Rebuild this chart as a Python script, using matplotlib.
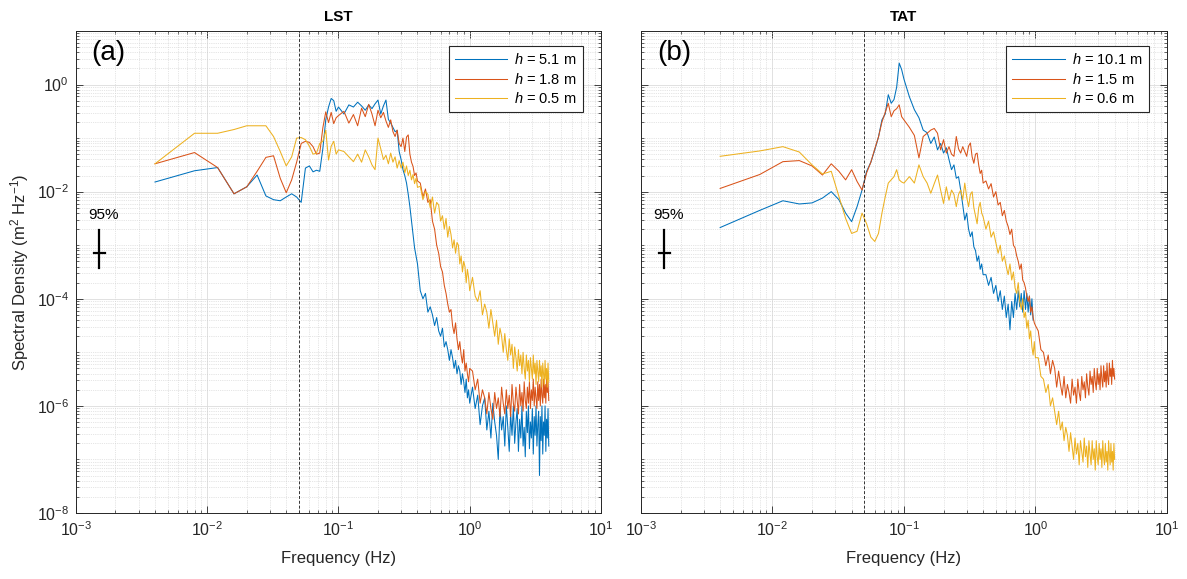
import numpy as np
import matplotlib.pyplot as plt
from matplotlib.ticker import LogLocator, NullFormatter, FixedLocator

plt.rcParams['font.family'] = ['Liberation Sans', 'DejaVu Sans']
plt.rcParams['mathtext.fontset'] = 'custom'
plt.rcParams['mathtext.rm'] = 'Liberation Sans'
plt.rcParams['mathtext.it'] = 'Liberation Sans:italic'
plt.rcParams['axes.unicode_minus'] = False

# frequency bins (Hz), shared by both panels
freq = [0.004, 0.008, 0.012, 0.016, 0.020, 0.024, 0.028, 0.032, 0.036, 0.040,
        0.044, 0.048, 0.052, 0.056, 0.060, 0.064, 0.068, 0.072, 0.076, 0.080,
        0.084, 0.088, 0.092, 0.096, 0.100,
        0.11, 0.12, 0.13, 0.14, 0.15, 0.16, 0.17, 0.18, 0.19, 0.20,
        0.21, 0.22, 0.23, 0.24, 0.25, 0.26, 0.27, 0.28, 0.29, 0.30,
        0.31, 0.32, 0.33, 0.34, 0.35, 0.36, 0.37, 0.38, 0.39, 0.40,
        0.42, 0.44, 0.46, 0.48, 0.50, 0.52, 0.54, 0.56, 0.58, 0.60,
        0.62, 0.64, 0.66, 0.68, 0.70, 0.72, 0.74, 0.76, 0.78, 0.80,
        0.82, 0.84, 0.86, 0.88, 0.90, 0.92, 0.94, 0.96, 0.98, 1.00,
        1.05, 1.10, 1.15, 1.20, 1.25, 1.30, 1.35, 1.40, 1.45, 1.50,
        1.55, 1.60, 1.65, 1.70, 1.75, 1.80, 1.85, 1.90, 1.95, 2.00,
        2.05, 2.10, 2.15, 2.20, 2.25, 2.30, 2.35, 2.40, 2.45, 2.50,
        2.55, 2.60, 2.65, 2.70, 2.75, 2.80, 2.85, 2.90, 2.95, 3.00,
        3.05, 3.10, 3.15, 3.20, 3.25, 3.30, 3.35, 3.40, 3.45, 3.50,
        3.55, 3.60, 3.65, 3.70, 3.75, 3.80, 3.85, 3.90, 3.95, 4.00]

# spectral density, log10(m2 Hz-1)
# LST
lst_h51 = [-1.82, -1.61, -1.55, -2.04, -1.91, -1.69, -2.08, -2.15, -2.17, -2.10,
           -2.04, -2.10, -2.20, -1.56, -1.52, -1.63, -1.60, -1.62, -1.20, -0.66,
           -0.42, -0.26, -0.30, -0.50, -0.42,
           -0.55, -0.38, -0.42, -0.33, -0.40, -0.48, -0.38, -0.45, -0.36, -0.29,
           -0.55, -0.40, -0.29, -0.65, -0.72, -0.80, -0.88, -0.86, -1.25, -1.40,
           -1.59, -1.70, -1.84, -2.05, -2.28, -2.55, -2.80, -3.05, -3.20, -3.35,
           -3.85, -4.00, -3.90, -4.25, -4.15, -4.30, -4.50, -4.35, -4.60, -4.70,
           -4.55, -4.90, -4.80, -4.95, -5.15, -4.95, -5.10, -5.30, -5.15, -5.40,
           -5.25, -5.35, -5.60, -5.40, -5.55, -5.75, -5.50, -5.85, -5.70, -5.95,
           -5.65, -6.05, -5.80, -6.35, -6.00, -5.85, -6.45, -6.10, -6.60, -5.95,
           -6.30, -6.55, -7.00, -6.05, -6.45, -6.20, -6.75, -6.00, -6.40, -6.85,
           -6.15, -6.55, -6.00, -6.70, -6.30, -6.05, -6.85, -6.25, -6.60, -6.00,
           -6.75, -6.40, -6.95, -6.10, -6.50, -6.00, -6.80, -6.30, -6.60, -6.05,
           -6.90, -6.20, -6.55, -6.00, -6.75, -6.35, -6.10, -7.30, -6.20, -6.65,
           -6.00, -6.90, -6.30, -6.55, -6.00, -6.85, -6.25, -6.60, -6.05, -6.75]
lst_h18 = [-1.48, -1.27, -1.55, -2.04, -1.91, -1.62, -1.36, -1.33, -1.75, -2.02,
           -1.78, -1.45, -1.10, -1.06, -1.08, -1.16, -1.30, -1.28, -0.81, -0.51,
           -0.71, -0.52, -0.73, -0.62, -0.58,
           -0.50, -0.72, -0.56, -0.77, -0.44, -0.60, -0.37, -0.55, -0.77, -0.48,
           -0.62, -0.52, -0.68, -0.80, -0.66, -0.88, -0.97, -0.85, -1.10, -1.16,
           -1.00, -1.25, -0.98, -0.94, -1.30, -1.45, -1.53, -1.70, -1.65, -1.80,
           -1.84, -2.10, -1.95, -2.20, -2.15, -2.55, -2.70, -3.00, -3.15, -3.40,
           -3.50, -3.75, -3.90, -4.10, -4.25, -4.20, -4.50, -4.65, -4.45, -4.75,
           -4.95, -4.80, -5.05, -5.20, -4.95, -5.35, -5.20, -5.40, -5.55, -5.30,
           -5.35, -5.70, -5.50, -5.95, -5.70, -5.85, -6.15, -5.75, -6.05, -6.25,
           -5.75, -6.05, -5.85, -6.20, -5.65, -5.95, -6.15, -5.70, -6.05, -5.80,
           -6.20, -5.60, -5.95, -6.10, -5.65, -5.90, -6.15, -5.60, -6.00, -5.75,
           -6.10, -5.55, -5.90, -6.05, -5.65, -5.95, -5.55, -6.05, -5.70, -5.90,
           -5.50, -6.00, -5.65, -5.85, -6.05, -5.55, -5.90, -5.60, -6.00, -5.50,
           -5.80, -5.95, -5.50, -5.85, -5.60, -5.95, -5.45, -5.75, -5.55, -5.90]
lst_h05 = [-1.48, -0.91, -0.91, -0.84, -0.77, -0.77, -0.77, -0.97, -1.25, -1.52,
           -1.35, -1.00, -0.99, -1.03, -1.15, -1.30, -1.28, -1.10, -1.06, -0.85,
           -1.41, -1.15, -1.06, -1.30, -1.22,
           -1.25, -1.35, -1.44, -1.30, -1.45, -1.22, -1.35, -1.50, -1.59, -1.00,
           -1.20, -1.40, -1.32, -1.48, -1.28, -1.45, -1.35, -1.56, -1.42, -1.56,
           -1.45, -1.65, -1.52, -1.70, -1.60, -1.78, -1.68, -1.85, -1.75, -1.92,
           -1.90, -2.15, -2.00, -2.05, -2.30, -2.10, -2.40, -2.20, -2.25, -2.55,
           -2.45, -2.70, -2.50, -2.85, -2.65, -2.80, -3.05, -2.90, -3.15, -2.95,
           -3.00, -3.35, -3.20, -3.50, -3.30, -3.40, -3.70, -3.45, -3.60, -3.85,
           -3.60, -3.95, -4.05, -3.85, -4.30, -4.10, -4.25, -4.55, -4.20, -4.45,
           -4.70, -4.40, -4.85, -4.55, -4.70, -5.00, -4.65, -4.95, -5.15, -4.75,
           -5.05, -4.85, -5.30, -4.90, -5.10, -5.35, -4.95, -5.25, -5.05, -5.40,
           -5.00, -5.30, -5.50, -5.05, -5.35, -5.15, -5.55, -5.10, -5.30, -5.50,
           -5.05, -5.40, -5.20, -5.60, -5.15, -5.35, -5.55, -5.15, -5.45, -5.25,
           -5.65, -5.20, -5.40, -5.60, -5.15, -5.50, -5.30, -5.65, -5.20, -5.55]

# TAT (the h = 10.1 m record stops near 1 Hz)
tat_h101 = [-2.67, -2.35, -2.17, -2.23, -2.21, -2.12, -2.00, -2.15, -2.40, -2.56,
            -2.28, -1.97, -1.62, -1.45, -1.22, -0.98, -0.66, -0.55, -0.19, -0.35,
            -0.28, -0.05, 0.40, 0.28, 0.10,
            -0.23, -0.47, -0.62, -0.85, -0.90, -1.10, -0.98, -1.22, -1.10, -1.28,
            -1.18, -1.40, -1.59, -1.50, -1.75, -1.72, -1.97, -2.25, -2.53, -2.40,
            -2.70, -2.84, -2.75, -3.03, -3.10, -3.30, -3.20, -3.45, -3.35, -3.55,
            -3.55, -3.75, -3.60, -3.90, -3.75, -4.05, -3.85, -4.20, -3.95, -4.35,
            -4.10, -4.58, -4.05, -4.35, -3.90, -4.20, -3.85, -4.15, -3.90, -4.25,
            -3.85, -4.20, -3.90, -4.25, -3.95, -4.30, -4.00, -4.40]
tat_h15 = [-1.94, -1.68, -1.44, -1.42, -1.52, -1.69, -1.48, -1.62, -1.78, -1.59,
           -1.81, -1.97, -1.65, -1.45, -1.20, -0.98, -0.70, -0.52, -0.35, -0.60,
           -0.49, -0.45, -0.38, -0.60, -0.66,
           -0.80, -0.95, -1.37, -0.97, -0.91, -0.85, -0.82, -0.91, -1.22, -1.03,
           -1.28, -1.16, -1.30, -1.34, -0.97, -1.20, -1.28, -1.16, -1.25, -1.34,
           -1.15, -1.09, -1.35, -1.47, -1.30, -1.28, -1.50, -1.66, -1.60, -1.84,
           -1.80, -1.95, -1.85, -2.10, -2.00, -2.25, -2.20, -2.45, -2.35, -2.55,
           -2.65, -2.80, -2.70, -3.00, -3.05, -3.20, -3.30, -3.45, -3.35, -3.65,
           -3.70, -3.80, -3.95, -4.05, -3.95, -4.25, -4.15, -4.35, -4.45, -4.50,
           -4.60, -4.95, -5.00, -5.25, -5.05, -5.40, -5.15, -5.30, -5.65, -5.35,
           -5.60, -5.80, -5.45, -5.85, -5.60, -5.75, -5.95, -5.50, -5.80, -5.65,
           -5.95, -5.50, -5.75, -5.90, -5.45, -5.70, -5.55, -5.85, -5.40, -5.65,
           -5.80, -5.35, -5.60, -5.45, -5.75, -5.30, -5.55, -5.70, -5.30, -5.60,
           -5.40, -5.70, -5.25, -5.50, -5.65, -5.25, -5.55, -5.35, -5.65, -5.20,
           -5.50, -5.60, -5.20, -5.45, -5.30, -5.60, -5.15, -5.45, -5.30, -5.50]
tat_h06 = [-1.34, -1.24, -1.16, -1.26, -1.50, -1.67, -1.62, -2.09, -2.50, -2.78,
           -2.74, -2.40, -2.60, -2.85, -2.93, -2.78, -2.40, -2.10, -1.84, -1.78,
           -1.72, -1.59, -1.78, -1.82, -1.84,
           -1.72, -1.84, -1.50, -1.72, -1.84, -2.03, -1.85, -1.69, -1.97, -2.22,
           -1.91, -2.16, -1.97, -2.05, -2.28, -2.05, -1.97, -2.15, -1.84, -2.10,
           -2.28, -2.05, -2.00, -2.30, -2.45, -2.60, -2.30, -2.20, -2.40, -2.47,
           -2.70, -2.55, -2.85, -2.75, -2.95, -3.15, -3.00, -3.30, -3.20, -3.40,
           -3.55, -3.35, -3.65, -3.50, -3.80, -3.90, -3.70, -4.05, -4.20, -4.00,
           -4.35, -4.25, -4.55, -4.40, -4.75, -4.60, -4.90, -5.05, -4.80, -5.10,
           -5.10, -5.45, -5.50, -5.75, -5.60, -6.00, -5.85, -6.10, -6.35, -6.10,
           -6.45, -6.30, -6.65, -6.40, -6.55, -6.85, -6.50, -6.75, -7.00, -6.60,
           -6.90, -6.70, -7.10, -6.65, -6.85, -7.05, -6.60, -6.95, -6.75, -7.15,
           -6.65, -6.90, -7.10, -6.65, -7.00, -6.80, -7.20, -6.65, -6.95, -7.10,
           -6.70, -7.00, -6.80, -7.15, -6.65, -6.95, -7.10, -6.70, -7.05, -6.85,
           -7.20, -6.65, -6.90, -7.10, -6.70, -7.05, -6.85, -7.20, -6.70, -7.00]

lst_labels = ['$h$ = 5.1 m', '$h$ = 1.8 m', '$h$ = 0.5 m']
tat_labels = ['$h$ = 10.1 m', '$h$ = 1.5 m', '$h$ = 0.6 m']
colors = ['#0072BD', '#D95319', '#EDB120']

# 95% confidence bar (freq, centre, lower, upper) as log10 values
ci_freq = 0.0015
ci_mid, ci_lo, ci_hi = -3.14, -3.42, -2.71
cutoff = 0.05

for s in [lst_h51, lst_h18, lst_h05, tat_h15, tat_h06]:
    assert len(s) == len(freq), len(s)

fig = plt.figure(figsize=(11.87, 5.79), dpi=100)
ax1 = fig.add_axes([0.064, 0.114, 0.4423, 0.8325])
ax2 = fig.add_axes([0.540, 0.114, 0.4431, 0.8325])

panels = [(ax1, [lst_h51, lst_h18, lst_h05], lst_labels, 'LST', '(a)'),
          (ax2, [tat_h101, tat_h15, tat_h06], tat_labels, 'TAT', '(b)')]

for ax, series, labels, title, tag in panels:
    for vals, lab, c in zip(series, labels, colors):
        ax.loglog(freq[:len(vals)], 10 ** np.array(vals), color=c, lw=0.75, label=lab)
    ax.axvline(cutoff, color='#333333', ls=(0, (3, 2)), lw=0.7)

    # confidence bar
    ax.plot([ci_freq, ci_freq], [10 ** ci_lo, 10 ** ci_hi], color='k', lw=1.6)
    ax.plot([ci_freq / 1.1, ci_freq * 1.1], [10 ** ci_mid, 10 ** ci_mid], color='k', lw=1.6)
    ax.text(ci_freq * 1.08, 10 ** (ci_hi + 0.27), '95%', ha='center', va='center', fontsize=11)

    ax.set_xlim(1e-3, 1e1)
    ax.set_ylim(1e-8, 1e1)
    ax.xaxis.set_major_locator(FixedLocator([1e-3, 1e-2, 1e-1, 1e0, 1e1]))
    ax.xaxis.set_minor_locator(LogLocator(base=10, subs=np.arange(2, 10), numticks=50))
    ax.yaxis.set_major_locator(FixedLocator([1e-8, 1e-6, 1e-4, 1e-2, 1e0]))
    ax.yaxis.set_minor_locator(LogLocator(base=10, subs=np.arange(1, 10), numticks=50))
    ax.xaxis.set_minor_formatter(NullFormatter())
    ax.yaxis.set_minor_formatter(NullFormatter())

    ax.grid(True, which='major', color='#dcdcdc', lw=0.6, ls='-')
    ax.grid(True, which='minor', color='#cccccc', lw=0.5, ls=':')
    ax.set_axisbelow(True)
    ax.tick_params(which='both', direction='in', top=True, right=True,
                   colors='#262626', labelsize=11.5, pad=5)
    ax.tick_params(which='major', length=5, width=0.6)
    ax.tick_params(which='minor', length=2.5, width=0.5)
    for sp in ax.spines.values():
        sp.set_color('#262626')
        sp.set_linewidth(0.7)

    ax.set_title(title, fontsize=11, fontweight='bold', pad=7)
    ax.set_xlabel('Frequency (Hz)', fontsize=12, color='#262626', labelpad=9)
    ax.text(0.03, 0.955, tag, transform=ax.transAxes, fontsize=20, ha='left', va='center')

    leg = ax.legend(loc='upper right', bbox_to_anchor=(0.965, 0.968), borderaxespad=0,
                    fontsize=10.5, handlelength=3.6, frameon=True, fancybox=False,
                    borderpad=0.4, labelspacing=0.3, handletextpad=0.5)
    leg.get_frame().set_edgecolor('#262626')
    leg.get_frame().set_linewidth(0.8)
    leg.get_frame().set_alpha(1)

ax1.set_ylabel('Spectral Density (m$^2$ Hz$^{-1}$)', fontsize=12, color='#262626', labelpad=4)
ax2.tick_params(labelleft=False)

fig.savefig('out.png', dpi=100)
